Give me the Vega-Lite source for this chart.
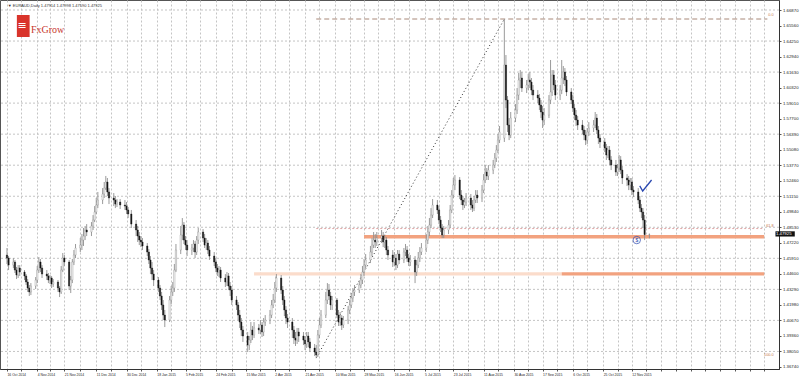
{
"$schema":"https://vega.github.io/schema/vega-lite/v6.json",
"width":779,"height":369,
"autosize":{"type":"none"},
"padding":{"left":0,"top":0,"right":21,"bottom":7},
"background":"#ffffff",
"config":{"view":{"stroke":"#555555","strokeWidth":1},"font":"Liberation Sans","axis":{"labelOverlap":false,"labelBound":false,"labelFlush":false}},
"datasets":{
"candles":[
{"d":"2014-10-16","o":1.4619,"h":1.4678,"l":1.4543,"c":1.4593},
{"d":"2014-10-17","o":1.4593,"h":1.4610,"l":1.4492,"c":1.4534},
{"d":"2014-10-20","o":1.4534,"h":1.4593,"l":1.4509,"c":1.4560},
{"d":"2014-10-21","o":1.4560,"h":1.4577,"l":1.4467,"c":1.4492},
{"d":"2014-10-22","o":1.4492,"h":1.4518,"l":1.4416,"c":1.4450},
{"d":"2014-10-23","o":1.4450,"h":1.4534,"l":1.4425,"c":1.4509},
{"d":"2014-10-24","o":1.4509,"h":1.4534,"l":1.4442,"c":1.4475},
{"d":"2014-10-27","o":1.4475,"h":1.4492,"l":1.4408,"c":1.4442},
{"d":"2014-10-28","o":1.4442,"h":1.4458,"l":1.4366,"c":1.4391},
{"d":"2014-10-29","o":1.4391,"h":1.4416,"l":1.4307,"c":1.4340},
{"d":"2014-10-30","o":1.4340,"h":1.4366,"l":1.4273,"c":1.4307},
{"d":"2014-10-31","o":1.4307,"h":1.4382,"l":1.4281,"c":1.4357},
{"d":"2014-11-03","o":1.4357,"h":1.4433,"l":1.4332,"c":1.4408},
{"d":"2014-11-04","o":1.4408,"h":1.4526,"l":1.4382,"c":1.4492},
{"d":"2014-11-05","o":1.4492,"h":1.4602,"l":1.4467,"c":1.4560},
{"d":"2014-11-06","o":1.4560,"h":1.4585,"l":1.4475,"c":1.4509},
{"d":"2014-11-07","o":1.4509,"h":1.4534,"l":1.4425,"c":1.4458},
{"d":"2014-11-10","o":1.4458,"h":1.4492,"l":1.4408,"c":1.4442},
{"d":"2014-11-11","o":1.4442,"h":1.4467,"l":1.4382,"c":1.4408},
{"d":"2014-11-12","o":1.4408,"h":1.4450,"l":1.4374,"c":1.4425},
{"d":"2014-11-13","o":1.4425,"h":1.4442,"l":1.4340,"c":1.4374},
{"d":"2014-11-14","o":1.4374,"h":1.4416,"l":1.4349,"c":1.4391},
{"d":"2014-11-17","o":1.4391,"h":1.4408,"l":1.4307,"c":1.4340},
{"d":"2014-11-18","o":1.4340,"h":1.4357,"l":1.4264,"c":1.4307},
{"d":"2014-11-19","o":1.4307,"h":1.4526,"l":1.4290,"c":1.4492},
{"d":"2014-11-20","o":1.4492,"h":1.4636,"l":1.4475,"c":1.4593},
{"d":"2014-11-21","o":1.4593,"h":1.4619,"l":1.4526,"c":1.4560},
{"d":"2014-11-24","o":1.4560,"h":1.4577,"l":1.4323,"c":1.4357},
{"d":"2014-11-25","o":1.4357,"h":1.4442,"l":1.4298,"c":1.4408},
{"d":"2014-11-26","o":1.4408,"h":1.4585,"l":1.4382,"c":1.4560},
{"d":"2014-11-27","o":1.4560,"h":1.4661,"l":1.4534,"c":1.4619},
{"d":"2014-11-28","o":1.4619,"h":1.4712,"l":1.4593,"c":1.4678},
{"d":"2014-12-01","o":1.4678,"h":1.4762,"l":1.4644,"c":1.4703},
{"d":"2014-12-02","o":1.4703,"h":1.4796,"l":1.4661,"c":1.4745},
{"d":"2014-12-03","o":1.4745,"h":1.4847,"l":1.4695,"c":1.4779},
{"d":"2014-12-04","o":1.4779,"h":1.4864,"l":1.4745,"c":1.4830},
{"d":"2014-12-05","o":1.4830,"h":1.4880,"l":1.4779,"c":1.4813},
{"d":"2014-12-08","o":1.4813,"h":1.4897,"l":1.4779,"c":1.4864},
{"d":"2014-12-09","o":1.4864,"h":1.4956,"l":1.4830,"c":1.4914},
{"d":"2014-12-10","o":1.4914,"h":1.5032,"l":1.4897,"c":1.4982},
{"d":"2014-12-11","o":1.4982,"h":1.5100,"l":1.4965,"c":1.5041},
{"d":"2014-12-12","o":1.5041,"h":1.5151,"l":1.5015,"c":1.5083},
{"d":"2014-12-15","o":1.5083,"h":1.5184,"l":1.5049,"c":1.5134},
{"d":"2014-12-16","o":1.5134,"h":1.5235,"l":1.5100,"c":1.5184},
{"d":"2014-12-17","o":1.5184,"h":1.5286,"l":1.5167,"c":1.5235},
{"d":"2014-12-18","o":1.5235,"h":1.5269,"l":1.5117,"c":1.5151},
{"d":"2014-12-19","o":1.5151,"h":1.5184,"l":1.5049,"c":1.5100},
{"d":"2014-12-22","o":1.5100,"h":1.5142,"l":1.5032,"c":1.5083},
{"d":"2014-12-23","o":1.5083,"h":1.5117,"l":1.5015,"c":1.5049},
{"d":"2014-12-24","o":1.5049,"h":1.5091,"l":1.5024,"c":1.5066},
{"d":"2014-12-26","o":1.5066,"h":1.5091,"l":1.5007,"c":1.5041},
{"d":"2014-12-29","o":1.5041,"h":1.5083,"l":1.4999,"c":1.5032},
{"d":"2014-12-30","o":1.5032,"h":1.5066,"l":1.4965,"c":1.4999},
{"d":"2014-12-31","o":1.4999,"h":1.5024,"l":1.4931,"c":1.4965},
{"d":"2015-01-02","o":1.4965,"h":1.4999,"l":1.4847,"c":1.4880},
{"d":"2015-01-05","o":1.4880,"h":1.4914,"l":1.4779,"c":1.4830},
{"d":"2015-01-06","o":1.4830,"h":1.4864,"l":1.4729,"c":1.4779},
{"d":"2015-01-07","o":1.4779,"h":1.4813,"l":1.4703,"c":1.4745},
{"d":"2015-01-08","o":1.4745,"h":1.4779,"l":1.4686,"c":1.4729},
{"d":"2015-01-09","o":1.4729,"h":1.4762,"l":1.4661,"c":1.4695},
{"d":"2015-01-12","o":1.4695,"h":1.4720,"l":1.4610,"c":1.4644},
{"d":"2015-01-13","o":1.4644,"h":1.4669,"l":1.4543,"c":1.4577},
{"d":"2015-01-14","o":1.4577,"h":1.4610,"l":1.4458,"c":1.4509},
{"d":"2015-01-15","o":1.4509,"h":1.4560,"l":1.4408,"c":1.4458},
{"d":"2015-01-16","o":1.4458,"h":1.4492,"l":1.4357,"c":1.4408},
{"d":"2015-01-19","o":1.4408,"h":1.4433,"l":1.4307,"c":1.4340},
{"d":"2015-01-20","o":1.4340,"h":1.4366,"l":1.4239,"c":1.4273},
{"d":"2015-01-21","o":1.4273,"h":1.4307,"l":1.4155,"c":1.4197},
{"d":"2015-01-22","o":1.4197,"h":1.4239,"l":1.4070,"c":1.4112},
{"d":"2015-01-23","o":1.4112,"h":1.4155,"l":1.4011,"c":1.4070},
{"d":"2015-01-26","o":1.4070,"h":1.4273,"l":1.4053,"c":1.4239},
{"d":"2015-01-27","o":1.4239,"h":1.4357,"l":1.4205,"c":1.4307},
{"d":"2015-01-28","o":1.4307,"h":1.4391,"l":1.4273,"c":1.4340},
{"d":"2015-01-29","o":1.4340,"h":1.4543,"l":1.4307,"c":1.4492},
{"d":"2015-01-30","o":1.4492,"h":1.4712,"l":1.4475,"c":1.4661},
{"d":"2015-02-02","o":1.4661,"h":1.4864,"l":1.4627,"c":1.4788},
{"d":"2015-02-03","o":1.4788,"h":1.4931,"l":1.4745,"c":1.4872},
{"d":"2015-02-04","o":1.4872,"h":1.4897,"l":1.4712,"c":1.4745},
{"d":"2015-02-05","o":1.4745,"h":1.4779,"l":1.4661,"c":1.4703},
{"d":"2015-02-06","o":1.4703,"h":1.4745,"l":1.4610,"c":1.4661},
{"d":"2015-02-09","o":1.4661,"h":1.4712,"l":1.4619,"c":1.4678},
{"d":"2015-02-10","o":1.4678,"h":1.4745,"l":1.4644,"c":1.4712},
{"d":"2015-02-11","o":1.4712,"h":1.4737,"l":1.4593,"c":1.4644},
{"d":"2015-02-12","o":1.4644,"h":1.4779,"l":1.4619,"c":1.4745},
{"d":"2015-02-13","o":1.4745,"h":1.4847,"l":1.4712,"c":1.4813},
{"d":"2015-02-16","o":1.4813,"h":1.4838,"l":1.4729,"c":1.4762},
{"d":"2015-02-17","o":1.4762,"h":1.4796,"l":1.4678,"c":1.4703},
{"d":"2015-02-18","o":1.4703,"h":1.4762,"l":1.4661,"c":1.4720},
{"d":"2015-02-19","o":1.4720,"h":1.4745,"l":1.4627,"c":1.4661},
{"d":"2015-02-20","o":1.4661,"h":1.4695,"l":1.4577,"c":1.4610},
{"d":"2015-02-23","o":1.4610,"h":1.4644,"l":1.4526,"c":1.4560},
{"d":"2015-02-24","o":1.4560,"h":1.4593,"l":1.4475,"c":1.4509},
{"d":"2015-02-25","o":1.4509,"h":1.4543,"l":1.4442,"c":1.4475},
{"d":"2015-02-26","o":1.4475,"h":1.4526,"l":1.4433,"c":1.4492},
{"d":"2015-02-27","o":1.4492,"h":1.4518,"l":1.4391,"c":1.4425},
{"d":"2015-03-02","o":1.4425,"h":1.4458,"l":1.4349,"c":1.4391},
{"d":"2015-03-03","o":1.4391,"h":1.4475,"l":1.4357,"c":1.4442},
{"d":"2015-03-04","o":1.4442,"h":1.4467,"l":1.4323,"c":1.4357},
{"d":"2015-03-05","o":1.4357,"h":1.4391,"l":1.4273,"c":1.4323},
{"d":"2015-03-06","o":1.4323,"h":1.4357,"l":1.4197,"c":1.4239},
{"d":"2015-03-09","o":1.4239,"h":1.4273,"l":1.4155,"c":1.4197},
{"d":"2015-03-10","o":1.4197,"h":1.4222,"l":1.4070,"c":1.4112},
{"d":"2015-03-11","o":1.4112,"h":1.4155,"l":1.4003,"c":1.4053},
{"d":"2015-03-12","o":1.4053,"h":1.4087,"l":1.3935,"c":1.3986},
{"d":"2015-03-13","o":1.3986,"h":1.4020,"l":1.3885,"c":1.3935},
{"d":"2015-03-16","o":1.3935,"h":1.3969,"l":1.3800,"c":1.3859},
{"d":"2015-03-17","o":1.3859,"h":1.3935,"l":1.3817,"c":1.3901},
{"d":"2015-03-18","o":1.3901,"h":1.4053,"l":1.3876,"c":1.3986},
{"d":"2015-03-19","o":1.3986,"h":1.4020,"l":1.3901,"c":1.3944},
{"d":"2015-03-20","o":1.3944,"h":1.4053,"l":1.3918,"c":1.4003},
{"d":"2015-03-23","o":1.4003,"h":1.4036,"l":1.3952,"c":1.3986},
{"d":"2015-03-24","o":1.3986,"h":1.4070,"l":1.3952,"c":1.4028},
{"d":"2015-03-25","o":1.4028,"h":1.4053,"l":1.3927,"c":1.3969},
{"d":"2015-03-26","o":1.3969,"h":1.4087,"l":1.3935,"c":1.4053},
{"d":"2015-03-27","o":1.4053,"h":1.4112,"l":1.4020,"c":1.4070},
{"d":"2015-03-30","o":1.4070,"h":1.4155,"l":1.4036,"c":1.4112},
{"d":"2015-03-31","o":1.4112,"h":1.4239,"l":1.4087,"c":1.4197},
{"d":"2015-04-01","o":1.4197,"h":1.4290,"l":1.4171,"c":1.4239},
{"d":"2015-04-02","o":1.4239,"h":1.4391,"l":1.4214,"c":1.4340},
{"d":"2015-04-03","o":1.4340,"h":1.4458,"l":1.4307,"c":1.4425},
{"d":"2015-04-06","o":1.4425,"h":1.4450,"l":1.4290,"c":1.4323},
{"d":"2015-04-07","o":1.4323,"h":1.4357,"l":1.4197,"c":1.4239},
{"d":"2015-04-08","o":1.4239,"h":1.4273,"l":1.4104,"c":1.4155},
{"d":"2015-04-09","o":1.4155,"h":1.4188,"l":1.4036,"c":1.4087},
{"d":"2015-04-10","o":1.4087,"h":1.4121,"l":1.4003,"c":1.4053},
{"d":"2015-04-13","o":1.4053,"h":1.4087,"l":1.3918,"c":1.3986},
{"d":"2015-04-14","o":1.3986,"h":1.4020,"l":1.3868,"c":1.3918},
{"d":"2015-04-15","o":1.3918,"h":1.3969,"l":1.3851,"c":1.3901},
{"d":"2015-04-16","o":1.3901,"h":1.4003,"l":1.3868,"c":1.3969},
{"d":"2015-04-17","o":1.3969,"h":1.4003,"l":1.3885,"c":1.3935},
{"d":"2015-04-20","o":1.3935,"h":1.3969,"l":1.3859,"c":1.3901},
{"d":"2015-04-21","o":1.3901,"h":1.3935,"l":1.3817,"c":1.3868},
{"d":"2015-04-22","o":1.3868,"h":1.3969,"l":1.3834,"c":1.3935},
{"d":"2015-04-23","o":1.3935,"h":1.3969,"l":1.3842,"c":1.3885},
{"d":"2015-04-24","o":1.3885,"h":1.3918,"l":1.3800,"c":1.3834},
{"d":"2015-04-27","o":1.3834,"h":1.3868,"l":1.3766,"c":1.3800},
{"d":"2015-04-28","o":1.3800,"h":1.3859,"l":1.3749,"c":1.3775},
{"d":"2015-04-29","o":1.3775,"h":1.3986,"l":1.3758,"c":1.3944},
{"d":"2015-04-30","o":1.3944,"h":1.4087,"l":1.3918,"c":1.4028},
{"d":"2015-05-01","o":1.4028,"h":1.4155,"l":1.4003,"c":1.4112},
{"d":"2015-05-04","o":1.4112,"h":1.4307,"l":1.4087,"c":1.4239},
{"d":"2015-05-05","o":1.4239,"h":1.4382,"l":1.4205,"c":1.4323},
{"d":"2015-05-06","o":1.4323,"h":1.4374,"l":1.4239,"c":1.4273},
{"d":"2015-05-07","o":1.4273,"h":1.4307,"l":1.4155,"c":1.4197},
{"d":"2015-05-08","o":1.4197,"h":1.4273,"l":1.4155,"c":1.4239},
{"d":"2015-05-11","o":1.4239,"h":1.4256,"l":1.4087,"c":1.4112},
{"d":"2015-05-12","o":1.4112,"h":1.4155,"l":1.4020,"c":1.4053},
{"d":"2015-05-13","o":1.4053,"h":1.4138,"l":1.4020,"c":1.4087},
{"d":"2015-05-14","o":1.4087,"h":1.4112,"l":1.3986,"c":1.4028},
{"d":"2015-05-15","o":1.4028,"h":1.4104,"l":1.4003,"c":1.4070},
{"d":"2015-05-18","o":1.4070,"h":1.4188,"l":1.4036,"c":1.4155},
{"d":"2015-05-19","o":1.4155,"h":1.4239,"l":1.4121,"c":1.4197},
{"d":"2015-05-20","o":1.4197,"h":1.4298,"l":1.4171,"c":1.4256},
{"d":"2015-05-21","o":1.4256,"h":1.4340,"l":1.4222,"c":1.4307},
{"d":"2015-05-22","o":1.4307,"h":1.4366,"l":1.4273,"c":1.4323},
{"d":"2015-05-25","o":1.4323,"h":1.4399,"l":1.4298,"c":1.4366},
{"d":"2015-05-26","o":1.4366,"h":1.4458,"l":1.4340,"c":1.4408},
{"d":"2015-05-27","o":1.4408,"h":1.4526,"l":1.4374,"c":1.4475},
{"d":"2015-05-28","o":1.4475,"h":1.4585,"l":1.4442,"c":1.4534},
{"d":"2015-05-29","o":1.4534,"h":1.4627,"l":1.4509,"c":1.4577},
{"d":"2015-06-01","o":1.4577,"h":1.4695,"l":1.4551,"c":1.4644},
{"d":"2015-06-02","o":1.4644,"h":1.4762,"l":1.4610,"c":1.4703},
{"d":"2015-06-03","o":1.4703,"h":1.4813,"l":1.4678,"c":1.4745},
{"d":"2015-06-04","o":1.4745,"h":1.4796,"l":1.4678,"c":1.4729},
{"d":"2015-06-05","o":1.4729,"h":1.4813,"l":1.4695,"c":1.4762},
{"d":"2015-06-08","o":1.4762,"h":1.4830,"l":1.4720,"c":1.4779},
{"d":"2015-06-09","o":1.4779,"h":1.4813,"l":1.4686,"c":1.4729},
{"d":"2015-06-10","o":1.4729,"h":1.4788,"l":1.4678,"c":1.4745},
{"d":"2015-06-11","o":1.4745,"h":1.4771,"l":1.4619,"c":1.4661},
{"d":"2015-06-12","o":1.4661,"h":1.4695,"l":1.4577,"c":1.4619},
{"d":"2015-06-15","o":1.4619,"h":1.4661,"l":1.4518,"c":1.4560},
{"d":"2015-06-16","o":1.4560,"h":1.4644,"l":1.4526,"c":1.4593},
{"d":"2015-06-17","o":1.4593,"h":1.4627,"l":1.4492,"c":1.4534},
{"d":"2015-06-18","o":1.4534,"h":1.4661,"l":1.4509,"c":1.4627},
{"d":"2015-06-19","o":1.4627,"h":1.4661,"l":1.4543,"c":1.4577},
{"d":"2015-06-22","o":1.4577,"h":1.4678,"l":1.4551,"c":1.4644},
{"d":"2015-06-23","o":1.4644,"h":1.4712,"l":1.4610,"c":1.4661},
{"d":"2015-06-24","o":1.4661,"h":1.4695,"l":1.4560,"c":1.4593},
{"d":"2015-06-25","o":1.4593,"h":1.4627,"l":1.4526,"c":1.4560},
{"d":"2015-06-26","o":1.4560,"h":1.4619,"l":1.4526,"c":1.4577},
{"d":"2015-06-29","o":1.4577,"h":1.4610,"l":1.4382,"c":1.4475},
{"d":"2015-06-30","o":1.4475,"h":1.4577,"l":1.4442,"c":1.4534},
{"d":"2015-07-01","o":1.4534,"h":1.4644,"l":1.4509,"c":1.4593},
{"d":"2015-07-02","o":1.4593,"h":1.4686,"l":1.4560,"c":1.4644},
{"d":"2015-07-03","o":1.4644,"h":1.4720,"l":1.4619,"c":1.4678},
{"d":"2015-07-06","o":1.4678,"h":1.4796,"l":1.4644,"c":1.4745},
{"d":"2015-07-07","o":1.4745,"h":1.4864,"l":1.4712,"c":1.4813},
{"d":"2015-07-08","o":1.4813,"h":1.4931,"l":1.4779,"c":1.4872},
{"d":"2015-07-09","o":1.4872,"h":1.5015,"l":1.4847,"c":1.4956},
{"d":"2015-07-10","o":1.4956,"h":1.5091,"l":1.4931,"c":1.5041},
{"d":"2015-07-13","o":1.5041,"h":1.5083,"l":1.4965,"c":1.4999},
{"d":"2015-07-14","o":1.4999,"h":1.5032,"l":1.4880,"c":1.4914},
{"d":"2015-07-15","o":1.4914,"h":1.4948,"l":1.4813,"c":1.4847},
{"d":"2015-07-16","o":1.4847,"h":1.4880,"l":1.4762,"c":1.4788},
{"d":"2015-07-17","o":1.4788,"h":1.4864,"l":1.4762,"c":1.4830},
{"d":"2015-07-20","o":1.4830,"h":1.4914,"l":1.4796,"c":1.4872},
{"d":"2015-07-21","o":1.4872,"h":1.5041,"l":1.4847,"c":1.4999},
{"d":"2015-07-22","o":1.4999,"h":1.5167,"l":1.4973,"c":1.5125},
{"d":"2015-07-23","o":1.5125,"h":1.5269,"l":1.5100,"c":1.5210},
{"d":"2015-07-24","o":1.5210,"h":1.5294,"l":1.5167,"c":1.5252},
{"d":"2015-07-27","o":1.5252,"h":1.5277,"l":1.5091,"c":1.5125},
{"d":"2015-07-28","o":1.5125,"h":1.5167,"l":1.5041,"c":1.5083},
{"d":"2015-07-29","o":1.5083,"h":1.5117,"l":1.4999,"c":1.5041},
{"d":"2015-07-30","o":1.5041,"h":1.5100,"l":1.5015,"c":1.5066},
{"d":"2015-07-31","o":1.5066,"h":1.5142,"l":1.5032,"c":1.5100},
{"d":"2015-08-03","o":1.5100,"h":1.5134,"l":1.4999,"c":1.5041},
{"d":"2015-08-04","o":1.5041,"h":1.5083,"l":1.4982,"c":1.5015},
{"d":"2015-08-05","o":1.5015,"h":1.5117,"l":1.4990,"c":1.5083},
{"d":"2015-08-06","o":1.5083,"h":1.5167,"l":1.5058,"c":1.5125},
{"d":"2015-08-07","o":1.5125,"h":1.5167,"l":1.5058,"c":1.5100},
{"d":"2015-08-10","o":1.5100,"h":1.5210,"l":1.5066,"c":1.5167},
{"d":"2015-08-11","o":1.5167,"h":1.5302,"l":1.5142,"c":1.5252},
{"d":"2015-08-12","o":1.5252,"h":1.5378,"l":1.5226,"c":1.5319},
{"d":"2015-08-13","o":1.5319,"h":1.5353,"l":1.5252,"c":1.5286},
{"d":"2015-08-14","o":1.5286,"h":1.5378,"l":1.5252,"c":1.5336},
{"d":"2015-08-17","o":1.5336,"h":1.5421,"l":1.5302,"c":1.5378},
{"d":"2015-08-18","o":1.5378,"h":1.5480,"l":1.5353,"c":1.5437},
{"d":"2015-08-19","o":1.5437,"h":1.5547,"l":1.5404,"c":1.5505},
{"d":"2015-08-20","o":1.5505,"h":1.5640,"l":1.5480,"c":1.5589},
{"d":"2015-08-21","o":1.5589,"h":1.5708,"l":1.5564,"c":1.5657},
{"d":"2015-08-24","o":1.5606,"h":1.6611,"l":1.5573,"c":1.6222},
{"d":"2015-08-25","o":1.6222,"h":1.6307,"l":1.5859,"c":1.5927},
{"d":"2015-08-26","o":1.5927,"h":1.5961,"l":1.5657,"c":1.5716},
{"d":"2015-08-27","o":1.5716,"h":1.5775,"l":1.5589,"c":1.5632},
{"d":"2015-08-28","o":1.5632,"h":1.5826,"l":1.5606,"c":1.5775},
{"d":"2015-08-31","o":1.5775,"h":1.5893,"l":1.5741,"c":1.5843},
{"d":"2015-09-01","o":1.5843,"h":1.6028,"l":1.5809,"c":1.5969},
{"d":"2015-09-02","o":1.5969,"h":1.6155,"l":1.5927,"c":1.6096},
{"d":"2015-09-03","o":1.6096,"h":1.6180,"l":1.6028,"c":1.6113},
{"d":"2015-09-04","o":1.6113,"h":1.6163,"l":1.5995,"c":1.6028},
{"d":"2015-09-07","o":1.6028,"h":1.6096,"l":1.5986,"c":1.6054},
{"d":"2015-09-08","o":1.6054,"h":1.6146,"l":1.6011,"c":1.6096},
{"d":"2015-09-09","o":1.6096,"h":1.6163,"l":1.6028,"c":1.6079},
{"d":"2015-09-10","o":1.6079,"h":1.6113,"l":1.5969,"c":1.6011},
{"d":"2015-09-11","o":1.6011,"h":1.6054,"l":1.5927,"c":1.5969},
{"d":"2015-09-14","o":1.5969,"h":1.6011,"l":1.5902,"c":1.5944},
{"d":"2015-09-15","o":1.5944,"h":1.5978,"l":1.5843,"c":1.5885},
{"d":"2015-09-16","o":1.5885,"h":1.5927,"l":1.5775,"c":1.5826},
{"d":"2015-09-17","o":1.5826,"h":1.5876,"l":1.5691,"c":1.5758},
{"d":"2015-09-18","o":1.5758,"h":1.5859,"l":1.5716,"c":1.5800},
{"d":"2015-09-21","o":1.5800,"h":1.5969,"l":1.5775,"c":1.5927},
{"d":"2015-09-22","o":1.5927,"h":1.6265,"l":1.5893,"c":1.5995},
{"d":"2015-09-23","o":1.5995,"h":1.6180,"l":1.5961,"c":1.6138},
{"d":"2015-09-24","o":1.6138,"h":1.6180,"l":1.6011,"c":1.6054},
{"d":"2015-09-25","o":1.6054,"h":1.6096,"l":1.5927,"c":1.5969},
{"d":"2015-09-28","o":1.5969,"h":1.6054,"l":1.5927,"c":1.6011},
{"d":"2015-09-29","o":1.6011,"h":1.6265,"l":1.5978,"c":1.6113},
{"d":"2015-09-30","o":1.6113,"h":1.6214,"l":1.6062,"c":1.6163},
{"d":"2015-10-01","o":1.6163,"h":1.6197,"l":1.6045,"c":1.6096},
{"d":"2015-10-02","o":1.6096,"h":1.6130,"l":1.5961,"c":1.5995},
{"d":"2015-10-05","o":1.5995,"h":1.6028,"l":1.5893,"c":1.5927},
{"d":"2015-10-06","o":1.5927,"h":1.5969,"l":1.5826,"c":1.5859},
{"d":"2015-10-07","o":1.5859,"h":1.5893,"l":1.5758,"c":1.5800},
{"d":"2015-10-08","o":1.5800,"h":1.5843,"l":1.5708,"c":1.5758},
{"d":"2015-10-09","o":1.5758,"h":1.5792,"l":1.5674,"c":1.5716},
{"d":"2015-10-12","o":1.5716,"h":1.5758,"l":1.5640,"c":1.5674},
{"d":"2015-10-13","o":1.5674,"h":1.5708,"l":1.5589,"c":1.5632},
{"d":"2015-10-14","o":1.5632,"h":1.5674,"l":1.5547,"c":1.5589},
{"d":"2015-10-15","o":1.5589,"h":1.5691,"l":1.5556,"c":1.5657},
{"d":"2015-10-16","o":1.5657,"h":1.5741,"l":1.5623,"c":1.5691},
{"d":"2015-10-19","o":1.5691,"h":1.5758,"l":1.5657,"c":1.5716},
{"d":"2015-10-20","o":1.5716,"h":1.5826,"l":1.5691,"c":1.5775},
{"d":"2015-10-21","o":1.5775,"h":1.5809,"l":1.5640,"c":1.5674},
{"d":"2015-10-22","o":1.5674,"h":1.5708,"l":1.5556,"c":1.5606},
{"d":"2015-10-23","o":1.5606,"h":1.5640,"l":1.5522,"c":1.5573},
{"d":"2015-10-26","o":1.5573,"h":1.5606,"l":1.5488,"c":1.5522},
{"d":"2015-10-27","o":1.5522,"h":1.5556,"l":1.5421,"c":1.5463},
{"d":"2015-10-28","o":1.5463,"h":1.5539,"l":1.5437,"c":1.5505},
{"d":"2015-10-29","o":1.5505,"h":1.5539,"l":1.5378,"c":1.5421},
{"d":"2015-10-30","o":1.5421,"h":1.5454,"l":1.5336,"c":1.5378},
{"d":"2015-11-02","o":1.5378,"h":1.5421,"l":1.5286,"c":1.5319},
{"d":"2015-11-03","o":1.5319,"h":1.5387,"l":1.5286,"c":1.5353},
{"d":"2015-11-04","o":1.5353,"h":1.5463,"l":1.5319,"c":1.5421},
{"d":"2015-11-05","o":1.5421,"h":1.5454,"l":1.5302,"c":1.5336},
{"d":"2015-11-06","o":1.5336,"h":1.5370,"l":1.5218,"c":1.5269},
{"d":"2015-11-09","o":1.5269,"h":1.5302,"l":1.5201,"c":1.5252},
{"d":"2015-11-10","o":1.5252,"h":1.5286,"l":1.5167,"c":1.5210},
{"d":"2015-11-11","o":1.5210,"h":1.5269,"l":1.5167,"c":1.5235},
{"d":"2015-11-12","o":1.5235,"h":1.5269,"l":1.5125,"c":1.5167},
{"d":"2015-11-13","o":1.5167,"h":1.5201,"l":1.5108,"c":1.5151},
{"d":"2015-11-16","o":1.5151,"h":1.5184,"l":1.5049,"c":1.5083},
{"d":"2015-11-17","o":1.5083,"h":1.5117,"l":1.4982,"c":1.5015},
{"d":"2015-11-18","o":1.5015,"h":1.5049,"l":1.4931,"c":1.4982},
{"d":"2015-11-19","o":1.4982,"h":1.5015,"l":1.4847,"c":1.4914},
{"d":"2015-11-20","o":1.4914,"h":1.4956,"l":1.4745,"c":1.4791},
{"d":"2015-11-23","o":1.4791,"h":1.4800,"l":1.4759,"c":1.47925}
]},
"layer":[
{"data":{"values":[
{"s":"2015-05-28T00:00:00Z","e":"2016-02-03T00:00:00Z","lo":1.4759,"hi":1.4788,"k":"strong"},
{"s":"2015-03-20T00:00:00Z","e":"2015-09-29T00:00:00Z","lo":1.4445,"hi":1.4473,"k":"light"},
{"s":"2015-09-29T00:00:00Z","e":"2016-02-03T00:00:00Z","lo":1.4445,"hi":1.4473,"k":"strong"}]},
"mark":{"type":"rect"},
"encoding":{
"x":{"field":"s","type":"temporal","title":null,
"scale":{"type":"utc","nice":false,"domain":[{"year":2014,"month":10,"date":14,"hours":18,"minutes":17,"utc":true},{"year":2016,"month":2,"date":9,"hours":4,"minutes":5,"utc":true}]},
"axis":{"title":null,"orient":"bottom","tickCount":500,
"values":[
{"year":2014,"month":10,"date":16,"utc":true},{"year":2014,"month":10,"date":25,"utc":true},
{"year":2014,"month":11,"date":4,"utc":true},{"year":2014,"month":11,"date":12,"utc":true},
{"year":2014,"month":11,"date":21,"utc":true},{"year":2014,"month":12,"date":1,"utc":true},
{"year":2014,"month":12,"date":11,"utc":true},{"year":2014,"month":12,"date":20,"utc":true},
{"year":2014,"month":12,"date":30,"utc":true},{"year":2015,"month":1,"date":8,"utc":true},
{"year":2015,"month":1,"date":18,"utc":true},{"year":2015,"month":1,"date":27,"utc":true},
{"year":2015,"month":2,"date":5,"utc":true},{"year":2015,"month":2,"date":14,"utc":true},
{"year":2015,"month":2,"date":24,"utc":true},{"year":2015,"month":3,"date":6,"utc":true},
{"year":2015,"month":3,"date":15,"utc":true},{"year":2015,"month":3,"date":24,"utc":true},
{"year":2015,"month":4,"date":2,"utc":true},{"year":2015,"month":4,"date":11,"utc":true},
{"year":2015,"month":4,"date":21,"utc":true},{"year":2015,"month":4,"date":30,"utc":true},
{"year":2015,"month":5,"date":10,"utc":true},{"year":2015,"month":5,"date":19,"utc":true},
{"year":2015,"month":5,"date":28,"utc":true},{"year":2015,"month":6,"date":6,"utc":true},
{"year":2015,"month":6,"date":16,"utc":true},{"year":2015,"month":6,"date":25,"utc":true},
{"year":2015,"month":7,"date":5,"utc":true},{"year":2015,"month":7,"date":14,"utc":true},
{"year":2015,"month":7,"date":23,"utc":true},{"year":2015,"month":8,"date":1,"utc":true},
{"year":2015,"month":8,"date":11,"utc":true},{"year":2015,"month":8,"date":20,"utc":true},
{"year":2015,"month":8,"date":30,"utc":true},{"year":2015,"month":9,"date":8,"utc":true},
{"year":2015,"month":9,"date":17,"utc":true},{"year":2015,"month":9,"date":26,"utc":true},
{"year":2015,"month":10,"date":6,"utc":true},{"year":2015,"month":10,"date":15,"utc":true},
{"year":2015,"month":10,"date":25,"utc":true},{"year":2015,"month":11,"date":3,"utc":true},
{"year":2015,"month":11,"date":12,"utc":true},{"year":2015,"month":11,"date":21,"utc":true},
{"year":2015,"month":11,"date":30,"utc":true},{"year":2015,"month":12,"date":10,"utc":true},
{"year":2015,"month":12,"date":19,"utc":true},{"year":2015,"month":12,"date":28,"utc":true},
{"year":2016,"month":1,"date":6,"utc":true},{"year":2016,"month":1,"date":16,"utc":true},
{"year":2016,"month":1,"date":25,"utc":true},{"year":2016,"month":2,"date":3,"utc":true}],
"labelExpr":"indexof(['2014-10-16','2014-11-04','2014-11-21','2014-12-11','2014-12-30','2015-01-18','2015-02-05','2015-02-24','2015-03-15','2015-04-02','2015-04-21','2015-05-10','2015-05-28','2015-06-16','2015-07-05','2015-07-23','2015-08-11','2015-08-30','2015-09-17','2015-10-06','2015-10-25','2015-11-12'], utcFormat(datum.value, '%Y-%m-%d')) >= 0 ? utcFormat(datum.value, '%-d %b %Y') : ''",
"labelAlign":"left","labelBaseline":"top","labelPadding":1,"labelFontSize":3.4,"labelColor":"#222222","labelFont":"Liberation Sans",
"labelOverlap":false,"labelFlush":false,"labelBound":false,
"ticks":true,"tickSize":2,"tickColor":"#555555","domainColor":"#333333","domainWidth":1,
"grid":true,"gridColor":"#c4c4c4","gridDash":[2,2],"gridWidth":1}},
"x2":{"field":"e"},
"y":{"field":"lo","type":"quantitative","title":null,
"scale":{"domain":[1.365679,1.677141],"nice":false,"zero":false},
"axis":{"title":null,"orient":"right","tickCount":500,
"values":[1.6687,1.6556,1.6425,1.6294,1.6163,1.6032,1.5901,1.577,1.5639,1.5508,1.5377,1.5246,1.5115,1.4984,1.4853,1.4722,1.4591,1.446,1.4329,1.4198,1.4067,1.3936,1.3805,1.3674],
"format":".5f","labelFontSize":4.3,"labelFont":"Liberation Sans","labelColor":"#222222","labelPadding":1.5,"labelOverlap":false,"labelFlush":false,"labelBound":false,
"tickSize":2,"tickColor":"#555555","domainColor":"#333333","grid":false}},
"y2":{"field":"hi"},
"color":{"field":"k","type":"nominal","scale":{"domain":["strong","light"],"range":["#f2a27f","#fbdccb"]},"legend":null}}},
{"data":{"values":[{"p":1.6687},{"p":1.6425},{"p":1.6163},{"p":1.5901},{"p":1.5639},{"p":1.5377},{"p":1.5115},{"p":1.4853},{"p":1.4591},{"p":1.4329},{"p":1.4067},{"p":1.3805}]},
"mark":{"type":"rule","color":"#c4c4c4","strokeWidth":1,"strokeDash":[2,2]},
"encoding":{"y":{"field":"p","type":"quantitative","title":null}}},
{"mark":{"type":"rule","color":"#a0a0a0","strokeWidth":1},
"encoding":{"y":{"datum":1.47925,"type":"quantitative","title":null}}},
{"data":{"values":[{"s":"2015-04-28T00:00:00Z","e":"2016-02-05T00:00:00Z","p":1.6611}]},
"mark":{"type":"rule","color":"#a88878","strokeWidth":1,"strokeDash":[5,3]},
"encoding":{"x":{"field":"s","type":"temporal","title":null},"x2":{"field":"e"},"y":{"field":"p","type":"quantitative","title":null}}},
{"data":{"values":[{"s":"2015-04-28T00:00:00Z","e":"2016-02-03T00:00:00Z","p":1.48423}]},
"mark":{"type":"rule","color":"#e2a8a8","strokeWidth":1,"strokeDash":[2,2]},
"encoding":{"x":{"field":"s","type":"temporal","title":null},"x2":{"field":"e"},"y":{"field":"p","type":"quantitative","title":null}}},
{"data":{"values":[{"d":"2015-04-28T00:00:00Z","p":1.3749},{"d":"2015-08-24T00:00:00Z","p":1.6611}]},
"mark":{"type":"line","color":"#333333","strokeWidth":1,"strokeDash":[1,2.5]},
"encoding":{"x":{"field":"d","type":"temporal","title":null},"y":{"field":"p","type":"quantitative","title":null}}},
{"data":{"name":"candles"},
"mark":{"type":"rule","strokeWidth":0.9,"color":"#8e8e8e"},
"encoding":{
"x":{"field":"d","type":"temporal","title":null},
"y":{"field":"l","type":"quantitative","title":null},
"y2":{"field":"h"}}},
{"data":{"name":"candles"},
"mark":{"type":"bar","size":1.3,"strokeWidth":0.4},
"encoding":{
"x":{"field":"d","type":"temporal","title":null},
"y":{"field":"o","type":"quantitative","title":null},
"y2":{"field":"c"},
"fill":{"condition":{"test":"datum.c >= datum.o","value":"#ffffff"},"value":"#151515"},
"stroke":{"condition":{"test":"datum.c >= datum.o","value":"#8e8e8e"},"value":"#151515"}}},
{"data":{"values":[{"d":"2015-11-16T23:00:00Z","p":1.5202},{"d":"2015-11-18T19:00:00Z","p":1.5159},{"d":"2015-11-24T09:00:00Z","p":1.5252}]},
"mark":{"type":"line","color":"#2a48b0","strokeWidth":1.3},
"encoding":{"x":{"field":"d","type":"temporal","title":null},"y":{"field":"p","type":"quantitative","title":null}}},
{"data":{"values":[{"d":"2015-11-15T02:00:00Z","p":1.4745}]},
"mark":{"type":"point","shape":"circle","filled":false,"size":55,"color":"#2a48b0","strokeWidth":1},
"encoding":{"x":{"field":"d","type":"temporal","title":null},"y":{"field":"p","type":"quantitative","title":null}}},
{"data":{"values":[{"d":"2015-11-15T02:00:00Z","p":1.4745,"t":"$"}]},
"mark":{"type":"text","fontSize":5,"color":"#2a48b0","align":"center","baseline":"middle"},
"encoding":{"x":{"field":"d","type":"temporal","title":null},"y":{"field":"p","type":"quantitative","title":null},"text":{"field":"t"}}},
{"data":{"values":[
{"d":"2016-02-08T21:00:00Z","p":1.6645,"t":"0.0"},
{"d":"2016-02-08T21:00:00Z","p":1.4864,"t":"61.8"},
{"d":"2016-02-08T21:00:00Z","p":1.3771,"t":"100.0"}]},
"mark":{"type":"text","fontSize":3.8,"color":"#c87850","align":"right","baseline":"middle","font":"Liberation Sans"},
"encoding":{"x":{"field":"d","type":"temporal","title":null},"y":{"field":"p","type":"quantitative","title":null},"text":{"field":"t"}}},
{"data":{"values":[{"d":"2014-10-16T12:00:00Z","p":1.6721,"t":"▼ EURAUD,Daily  1.47914 1.47998 1.47590 1.47925"}]},
"mark":{"type":"text","fontSize":4,"color":"#333333","align":"left","baseline":"middle","font":"Liberation Sans"},
"encoding":{"x":{"field":"d","type":"temporal","title":null},"y":{"field":"p","type":"quantitative","title":null},"text":{"field":"t"}}},
{"data":{"values":[{"s":"2014-10-22T05:00:00Z","e":"2014-10-30T05:00:00Z","lo":1.6459,"hi":1.6645}]},
"mark":{"type":"rect","color":"#d9342b"},
"encoding":{"x":{"field":"s","type":"temporal","title":null},"x2":{"field":"e"},"y":{"field":"lo","type":"quantitative","title":null},"y2":{"field":"hi"}}},
{"data":{"values":[{"d":"2014-10-25T12:00:00Z","p":1.6552,"t":"≡"}]},
"mark":{"type":"text","fontSize":11,"color":"#ffffff","align":"center","baseline":"middle","font":"DejaVu Sans"},
"encoding":{"x":{"field":"d","type":"temporal","title":null},"y":{"field":"p","type":"quantitative","title":null},"text":{"field":"t"}}},
{"data":{"values":[{"d":"2014-10-31T00:00:00Z","p":1.6518,"t":"FxGrow"}]},
"mark":{"type":"text","fontSize":10,"color":"#c8372d","align":"left","baseline":"middle","font":"Liberation Serif"},
"encoding":{"x":{"field":"d","type":"temporal","title":null},"y":{"field":"p","type":"quantitative","title":null},"text":{"field":"t"}}},
{"data":{"values":[{"s":"2016-02-10T02:00:00Z","e":"2016-02-22T05:00:00Z","lo":1.4775,"hi":1.4819}]},
"mark":{"type":"rect","color":"#111111"},
"encoding":{"x":{"field":"s","type":"temporal","title":null},"x2":{"field":"e"},"y":{"field":"lo","type":"quantitative","title":null},"y2":{"field":"hi"}}},
{"data":{"values":[{"d":"2016-02-10T10:00:00Z","p":1.47925,"t":"1.47925"}]},
"mark":{"type":"text","fontSize":4.3,"color":"#ffffff","align":"left","baseline":"middle","font":"Liberation Sans"},
"encoding":{"x":{"field":"d","type":"temporal","title":null},"y":{"field":"p","type":"quantitative","title":null},"text":{"field":"t"}}}
]
}
